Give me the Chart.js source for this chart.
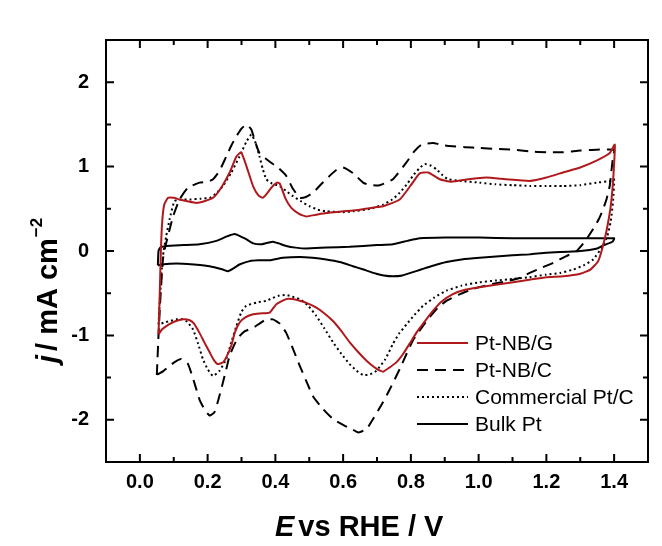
<!DOCTYPE html>
<html lang="en">
<head>
    <meta charset="UTF-8">
    <title>CV curves</title>
    <script src="https://cdn.jsdelivr.net/npm/chart.js"></script>
    <style>
        body { margin: 0; background: #fff; }
        canvas { display: block; }
    </style>
</head>
<body>
    <canvas id="cvChart" width="662" height="546"></canvas>

    <script>
        // tick values
        const xTicks = [0.0, 0.2, 0.4, 0.6, 0.8, 1.0, 1.2, 1.4];
        const yTicks = [-2, -1, 0, 1, 2];
        const seriesNames = ['Pt-NB/G', 'Pt-NB/C', 'Commercial Pt/C', 'Bulk Pt'];

        // Pt-NB/G (red), anodic then cathodic sweep
        const ptnbgE = [0.055,0.058,0.062,0.066,0.072,0.083,0.1,0.117,0.14,0.167,0.19,0.216,0.24,0.265,0.285,0.299,0.315,0.334,0.35,0.363,0.375,0.388,0.405,0.413,0.43,0.447,0.47,0.491,0.52,0.55,0.6,0.649,0.7,0.718,0.767,0.8,0.826,0.851,0.885,0.92,0.97,1.023,1.08,1.151,1.2,1.249,1.3,1.348,1.387,1.402,
            1.398,1.392,1.385,1.372,1.353,1.33,1.3,1.25,1.2,1.15,1.102,1.05,1.003,0.96,0.924,0.89,0.865,0.84,0.816,0.796,0.777,0.757,0.737,0.718,0.7,0.669,0.645,0.619,0.595,0.57,0.545,0.521,0.495,0.472,0.45,0.432,0.403,0.383,0.355,0.334,0.31,0.294,0.28,0.27,0.255,0.245,0.23,0.218,0.206,0.19,0.176,0.16,0.147,0.127,0.107,0.09,0.078,0.065,0.055];
        const ptnbgJ = [-0.99,-0.6,0.0,0.35,0.55,0.63,0.63,0.61,0.59,0.57,0.59,0.63,0.75,0.93,1.12,1.17,1.0,0.77,0.66,0.63,0.68,0.75,0.81,0.8,0.62,0.51,0.44,0.41,0.43,0.45,0.47,0.49,0.52,0.53,0.61,0.78,0.92,0.93,0.85,0.82,0.85,0.87,0.85,0.83,0.87,0.93,0.99,1.07,1.16,1.26,
            0.9,0.6,0.4,0.14,-0.12,-0.22,-0.27,-0.30,-0.31,-0.34,-0.37,-0.40,-0.43,-0.46,-0.51,-0.6,-0.71,-0.84,-0.97,-1.1,-1.22,-1.32,-1.38,-1.43,-1.40,-1.30,-1.2,-1.08,-0.95,-0.83,-0.74,-0.67,-0.62,-0.59,-0.57,-0.57,-0.63,-0.73,-0.74,-0.75,-0.79,-0.85,-0.97,-1.12,-1.26,-1.32,-1.34,-1.29,-1.2,-1.08,-0.97,-0.86,-0.82,-0.81,-0.83,-0.86,-0.89,-0.93,-0.99];

        // Pt-NB/C (dashed)
        const ptnbcE = [0.05,0.055,0.06,0.068,0.075,0.083,0.098,0.117,0.142,0.176,0.2,0.216,0.235,0.255,0.27,0.285,0.3,0.315,0.329,0.34,0.353,0.37,0.393,0.41,0.432,0.45,0.472,0.49,0.511,0.535,0.56,0.58,0.6,0.63,0.659,0.68,0.708,0.747,0.787,0.81,0.831,0.865,0.9,0.924,0.96,1.003,1.05,1.102,1.15,1.2,1.249,1.3,1.348,1.4,
            1.397,1.392,1.387,1.378,1.367,1.355,1.338,1.315,1.289,1.259,1.22,1.185,1.151,1.12,1.082,1.03,0.983,0.94,0.905,0.88,0.856,0.83,0.806,0.787,0.767,0.74,0.718,0.69,0.669,0.645,0.62,0.6,0.57,0.54,0.511,0.49,0.472,0.452,0.432,0.413,0.393,0.373,0.353,0.334,0.31,0.294,0.28,0.265,0.255,0.245,0.232,0.22,0.206,0.19,0.176,0.16,0.142,0.122,0.105,0.088,0.07,0.05];
        const ptnbcJ = [-1.47,-1.0,-0.6,-0.1,0.05,0.18,0.41,0.61,0.75,0.81,0.82,0.85,0.95,1.12,1.25,1.36,1.45,1.50,1.44,1.3,1.16,1.1,1.03,0.98,0.89,0.75,0.63,0.64,0.69,0.79,0.89,0.96,0.99,0.92,0.81,0.78,0.78,0.85,1.05,1.18,1.26,1.28,1.25,1.24,1.23,1.22,1.21,1.2,1.18,1.17,1.17,1.19,1.2,1.2,
            1.12,0.95,0.77,0.62,0.49,0.38,0.26,0.12,0.0,-0.06,-0.14,-0.2,-0.26,-0.32,-0.36,-0.40,-0.45,-0.52,-0.59,-0.67,-0.78,-0.92,-1.06,-1.22,-1.40,-1.62,-1.79,-1.98,-2.11,-2.15,-2.10,-2.06,-1.99,-1.87,-1.72,-1.53,-1.36,-1.16,-0.97,-0.86,-0.81,-0.81,-0.86,-0.91,-0.95,-1.01,-1.1,-1.24,-1.4,-1.56,-1.76,-1.91,-1.95,-1.87,-1.76,-1.55,-1.34,-1.28,-1.31,-1.36,-1.42,-1.47];

        // Commercial Pt/C (dotted)
        const commE = [0.055,0.06,0.065,0.07,0.078,0.088,0.102,0.12,0.147,0.18,0.206,0.225,0.245,0.27,0.294,0.315,0.329,0.34,0.353,0.363,0.373,0.39,0.413,0.432,0.452,0.475,0.501,0.525,0.55,0.6,0.629,0.68,0.718,0.745,0.767,0.79,0.806,0.825,0.841,0.86,0.875,0.893,0.91,0.95,1.003,1.05,1.1,1.151,1.2,1.249,1.3,1.348,1.392,1.4,
            1.397,1.39,1.38,1.365,1.338,1.31,1.279,1.24,1.2,1.15,1.102,1.05,1.003,0.95,0.905,0.87,0.836,0.81,0.787,0.765,0.747,0.725,0.698,0.68,0.659,0.64,0.619,0.595,0.57,0.545,0.521,0.495,0.472,0.45,0.432,0.41,0.39,0.373,0.345,0.314,0.3,0.285,0.27,0.255,0.235,0.216,0.2,0.186,0.172,0.157,0.14,0.127,0.108,0.088,0.07,0.055];
        const commJ = [-0.87,-0.5,-0.2,0.0,0.18,0.38,0.59,0.61,0.61,0.62,0.63,0.68,0.77,0.93,1.12,1.3,1.38,1.3,1.12,0.97,0.85,0.8,0.77,0.71,0.65,0.59,0.53,0.49,0.47,0.46,0.47,0.5,0.55,0.61,0.69,0.8,0.89,0.98,1.03,1.01,0.97,0.9,0.85,0.83,0.81,0.79,0.78,0.77,0.77,0.77,0.78,0.81,0.83,0.85,
            0.6,0.35,0.18,0.05,-0.10,-0.17,-0.22,-0.26,-0.28,-0.31,-0.33,-0.35,-0.37,-0.41,-0.47,-0.55,-0.65,-0.76,-0.87,-0.98,-1.1,-1.28,-1.42,-1.46,-1.47,-1.42,-1.34,-1.22,-1.08,-0.92,-0.77,-0.64,-0.57,-0.54,-0.52,-0.53,-0.56,-0.59,-0.61,-0.65,-0.72,-0.89,-1.08,-1.28,-1.42,-1.48,-1.4,-1.28,-1.1,-0.93,-0.84,-0.81,-0.81,-0.83,-0.85,-0.87];

        // Bulk Pt (solid black)
        const bulkE = [0.053,0.055,0.06,0.078,0.13,0.176,0.226,0.255,0.28,0.298,0.314,0.335,0.36,0.38,0.393,0.41,0.432,0.46,0.491,0.55,0.619,0.7,0.747,0.79,0.826,0.9,1.003,1.1,1.2,1.3,1.4,
            1.395,1.37,1.35,1.3,1.2,1.151,1.1,1.003,0.95,0.905,0.86,0.83,0.806,0.775,0.747,0.72,0.698,0.66,0.629,0.59,0.55,0.51,0.472,0.422,0.383,0.35,0.324,0.294,0.275,0.26,0.245,0.206,0.16,0.127,0.09,0.065,0.053];
        const bulkJ = [-0.17,0.0,0.04,0.06,0.07,0.08,0.12,0.17,0.20,0.17,0.14,0.09,0.08,0.10,0.11,0.09,0.06,0.04,0.03,0.04,0.05,0.07,0.08,0.12,0.15,0.16,0.16,0.15,0.15,0.15,0.15,
            0.11,0.07,0.03,0.0,-0.02,-0.04,-0.05,-0.08,-0.10,-0.13,-0.18,-0.22,-0.25,-0.29,-0.30,-0.29,-0.27,-0.22,-0.18,-0.13,-0.10,-0.08,-0.07,-0.08,-0.11,-0.11,-0.12,-0.16,-0.21,-0.24,-0.22,-0.18,-0.16,-0.15,-0.15,-0.16,-0.17];

        const FONT = 'Arial, "Liberation Sans", sans-serif';
        const RED = '#b0191c';

        function pts(xs, ys) {
            return xs.map((x, i) => ({ x: x, y: ys[i] }));
        }

        const datasets = [
            { label: seriesNames[0], data: pts(ptnbgE, ptnbgJ), borderColor: RED, borderDash: [] },
            { label: seriesNames[1], data: pts(ptnbcE, ptnbcJ), borderColor: '#000', borderDash: [11, 7] },
            { label: seriesNames[2], data: pts(commE, commJ), borderColor: '#000', borderDash: [2, 3] },
            { label: seriesNames[3], data: pts(bulkE, bulkJ), borderColor: '#000', borderDash: [] }
        ].map(d => Object.assign(d, { showLine: true, pointRadius: 0, borderWidth: 2, tension: 0.15, fill: false }));

        // frame, inward ticks, legend and axis titles
        const decor = {
            id: 'decor',
            afterDraw(chart) {
                const c = chart.ctx;
                const a = chart.chartArea;
                const xs = chart.scales.x, ys = chart.scales.y;
                c.save();
                c.strokeStyle = '#000';
                c.lineWidth = 2;
                c.setLineDash([]);
                c.strokeRect(a.left, a.top, a.right - a.left, a.bottom - a.top);

                c.beginPath();
                for (let v = 0; v <= 14; v++) {
                    const px = xs.getPixelForValue(v / 10);
                    const len = v % 2 === 0 ? 8 : 5;
                    c.moveTo(px, a.bottom); c.lineTo(px, a.bottom - len);
                    c.moveTo(px, a.top); c.lineTo(px, a.top + len);
                }
                for (let v = -4; v <= 4; v++) {
                    const py = ys.getPixelForValue(v / 2);
                    const len = v % 2 === 0 ? 8 : 5;
                    c.moveTo(a.left, py); c.lineTo(a.left + len, py);
                    c.moveTo(a.right, py); c.lineTo(a.right - len, py);
                }
                c.stroke();

                // legend
                c.font = '21px ' + FONT;
                c.textBaseline = 'middle';
                c.fillStyle = '#000';
                chart.data.datasets.forEach((d, i) => {
                    const y = 343 + i * 27;
                    c.strokeStyle = d.borderColor;
                    c.setLineDash(d.borderDash);
                    c.beginPath();
                    c.moveTo(417, y); c.lineTo(468, y);
                    c.stroke();
                    c.fillText(d.label, 475, y + 1);
                });
                c.setLineDash([]);

                // x title
                c.textBaseline = 'alphabetic';
                let x = 275;
                c.font = 'italic bold 29px ' + FONT;
                c.fillText('E', x, 536);
                x += c.measureText('E').width + 4;
                c.font = 'bold 29px ' + FONT;
                c.fillText('vs RHE / V', x, 536);

                // y title
                c.translate(57, 363);
                c.rotate(-Math.PI / 2);
                x = 0;
                c.font = 'italic bold 29px ' + FONT;
                c.fillText('j', x, 0);
                x += c.measureText('j').width + 4;
                c.font = 'bold 29px ' + FONT;
                c.fillText('/ mA cm', x, 0);
                x += c.measureText('/ mA cm').width + 1;
                c.font = 'bold 17px ' + FONT;
                c.fillText('\u22122', x, -15);
                c.restore();
            }
        };

        new Chart(document.getElementById('cvChart'), {
            type: 'scatter',
            data: { datasets: datasets },
            options: {
                responsive: false,
                animation: false,
                layout: { padding: { top: 40, right: 14, left: 0, bottom: 0 } },
                plugins: { legend: { display: false }, tooltip: { enabled: false } },
                scales: {
                    x: {
                        type: 'linear', min: -0.1, max: 1.5,
                        grid: { display: false }, border: { display: false },
                        afterBuildTicks: s => { s.ticks = xTicks.map(v => ({ value: v })); },
                        afterFit: s => { s.height = 84; },
                        ticks: {
                            color: '#000', padding: 0,
                            font: { family: FONT, size: 20, weight: 'bold' },
                            callback: v => v.toFixed(1)
                        }
                    },
                    y: {
                        type: 'linear', min: -2.5, max: 2.5,
                        grid: { display: false }, border: { display: false },
                        afterBuildTicks: s => { s.ticks = yTicks.map(v => ({ value: v })); },
                        afterFit: s => { s.width = 106; },
                        ticks: {
                            color: '#000', padding: 9,
                            font: { family: FONT, size: 20, weight: 'bold' },
                            callback: v => String(v)
                        }
                    }
                }
            },
            plugins: [decor]
        });
    </script>
</body>
</html>
